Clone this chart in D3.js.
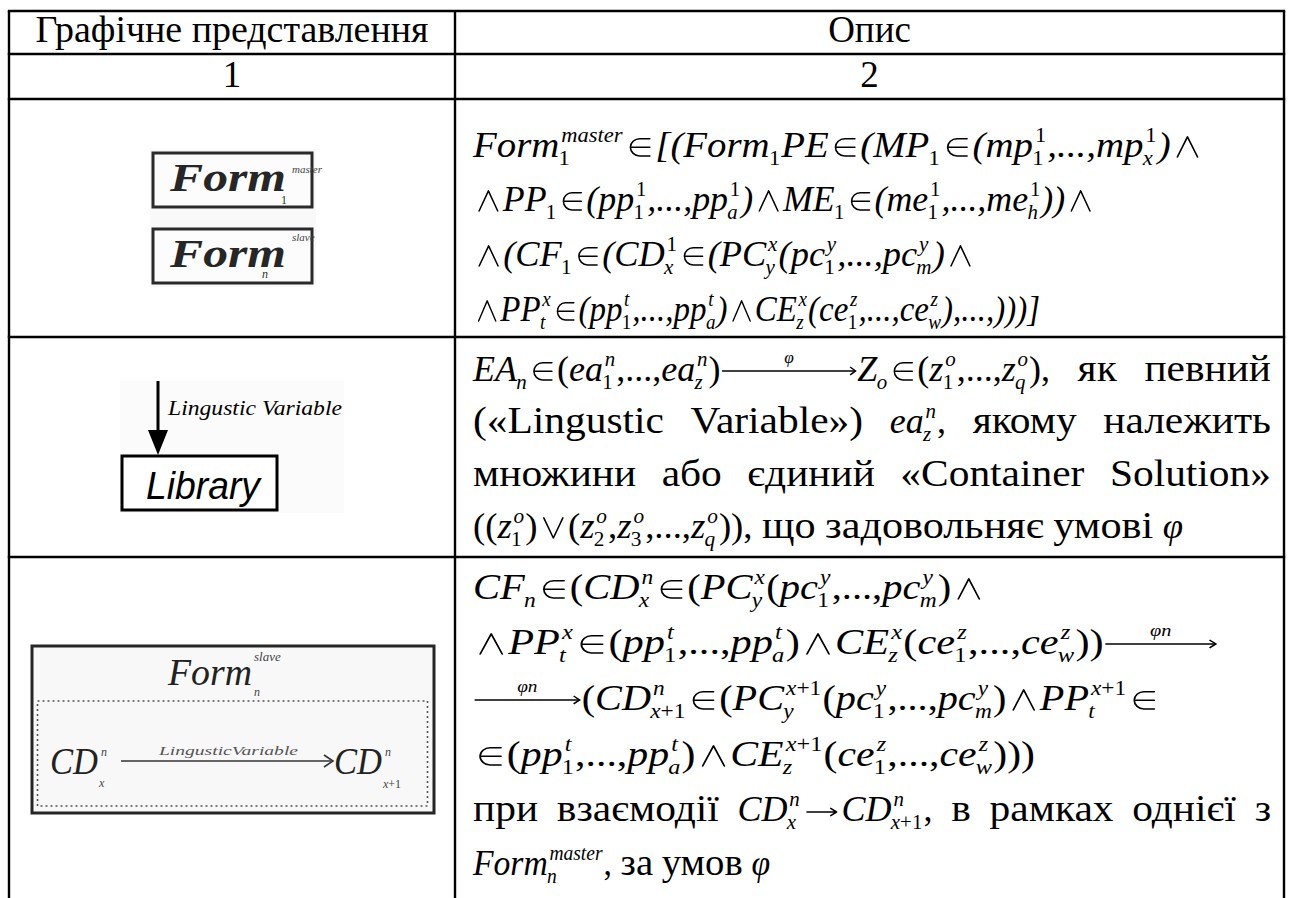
<!DOCTYPE html>
<html><head><meta charset="utf-8">
<script src="https://cdn.jsdelivr.net/npm/d3@7"></script>
<style>
html,body{margin:0;padding:0;background:#fff;}
svg{display:block;}
</style></head>
<body>
<svg id="chart" width="1292" height="898"></svg>
<script>
// ---------------- DATA (content of the table) ----------------
const headers = ["Графічне представлення", "Опис"];
const columnNumbers = ["1", "2"];
// "$" = formula word (mini markup: X_{sub}^{sup}, \arrow{label|length}); others = plain text words
const row1Formulas = [
  ["$Form_{1}^{master}∈[(Form_{1}PE∈(MP_{1}∈(mp_{1}^{1},...,mp_{x}^{1})∧"],
  ["$∧PP_{1}∈(pp_{1}^{1},...,pp_{a}^{1})∧ME_{1}∈(me_{1}^{1},...,me_{h}^{1}))∧"],
  ["$∧(CF_{1}∈(CD_{x}^{1}∈(PC_{y}^{x}(pc_{1}^{y},...,pc_{m}^{y})∧"],
  ["$∧PP_{t}^{x}∈(pp_{1}^{t},...,pp_{a}^{t})∧CE_{z}^{x}(ce_{1}^{z},...,ce_{w}^{z}),...,)))]"]
];
const row2Lines = [
  ["$EA_{n}∈(ea_{1}^{n},...,ea_{z}^{n})\\arrow{φ|3.8}Z_{o}∈(z_{1}^{o},...,z_{q}^{o}),", "як", "певний"],
  ["(«Lingustic", "Variable»)", "$ea_{z}^{n},", "якому", "належить"],
  ["множини", "або", "єдиний", "«Container", "Solution»"],
  ["$((z_{1}^{o})∨(z_{2}^{o},z_{3}^{o},...,z_{q}^{o})),", "що", "задовольняє", "умові", "$φ"]
];
const row3Lines = [
  ["$CF_{n}∈(CD_{x}^{n}∈(PC_{y}^{x}(pc_{1}^{y},...,pc_{m}^{y})∧"],
  ["$∧PP_{t}^{x}∈(pp_{1}^{t},...,pp_{a}^{t})∧CE_{z}^{x}(ce_{1}^{z},...,ce_{w}^{z}))\\arrow{φn|2.7}"],
  ["$\\arrow{φn|2.7}(CD_{x+1}^{n}∈(PC_{y}^{x+1}(pc_{1}^{y},...,pc_{m}^{y})∧PP_{t}^{x+1}∈"],
  ["$∈(pp_{1}^{t},...,pp_{a}^{t})∧CE_{z}^{x+1}(ce_{1}^{z},...,ce_{w}^{z})))"],
  ["при", "взаємодії", "$CD_{x}^{n}→CD_{x+1}^{n},", "в", "рамках", "однієї", "з"],
  ["$Form_{n}^{master},", "за", "умов", "$φ"]
];
const figureLabels = { master: "master", slave: "slave", form: "Form", arrowLabel: "Lingustic Variable", library: "Library", cd: "CD", cdArrow: "LingusticVariable" };

// ---------------- LAYOUT ----------------
const W = 1292, H = 898;
const SERIF = "'Liberation Serif','Times New Roman',serif";
const SANS = "'Liberation Sans',Arial,sans-serif";
const colEdges = [9, 455, 1284];
const rowEdges = [11, 54, 99, 337, 557];
const textLeft = 473, textRight = 1271;
const textF = 37, mathF = 36, textStretch = 1.12;

const row1Layout = { baselines: [157, 211, 266, 321], right: [1203, 1095, 975, 1040], justify: [false, false, false, false] };
const row2Layout = { baselines: [381, 433, 486, 538], right: [textRight, textRight, textRight, 1183], justify: [true, true, true, false] };
const row3Layout = { baselines: [599, 654, 710, 766, 821, 875], right: [985, 1218, 1160, 1035, textRight, 770], justify: [false, false, false, false, true, false] };

const svg = d3.select("#chart").attr("font-family", SERIF);
svg.append("rect").attr("width", W).attr("height", H).attr("fill", "#fff");

// ---------------- TABLE GRID ----------------
const grid = svg.append("g").attr("stroke", "#000").attr("stroke-width", 2.4);
grid.selectAll("line.h").data(rowEdges).join("line")
  .attr("x1", colEdges[0] - 1.2).attr("x2", colEdges[2] + 1.2)
  .attr("y1", d => d).attr("y2", d => d);
grid.selectAll("line.v").data(colEdges).join("line").attr("class", "v")
  .attr("x1", d => d).attr("x2", d => d)
  .attr("y1", rowEdges[0]).attr("y2", H);

const colCenter = i => (colEdges[i] + colEdges[i + 1]) / 2;
svg.selectAll("text.hdr").data(headers).join("text").attr("class", "hdr")
  .attr("x", (d, i) => colCenter(i)).attr("y", 42).attr("text-anchor", "middle")
  .attr("font-size", textF).text(d => d)
  .each(function (d, i) { if (i === 0) d3.select(this).attr("textLength", 393).attr("lengthAdjust", "spacingAndGlyphs"); });
svg.selectAll("text.num").data(columnNumbers).join("text").attr("class", "num")
  .attr("x", (d, i) => colCenter(i)).attr("y", 87).attr("text-anchor", "middle")
  .attr("font-size", textF).text(d => d);

// ---------------- MINI MATH RENDERER ----------------
const isLetter = c => /[A-Za-zα-ωφ]/.test(c);
function parseMath(s) {
  const atoms = []; let i = 0;
  while (i < s.length) {
    if (s.startsWith("\\arrow{", i)) {
      const j = s.indexOf("}", i); const [lab, len] = s.slice(i + 7, j).split("|");
      atoms.push({ arrow: lab, len: +len }); i = j + 1; continue;
    }
    const c = s[i];
    if (c === "_" || c === "^") {
      let g;
      if (s[i + 1] === "{") { const j = s.indexOf("}", i); g = s.slice(i + 2, j); i = j + 1; }
      else { g = s[i + 1]; i += 2; }
      atoms[atoms.length - 1][c === "_" ? "sub" : "sup"] = g; continue;
    }
    if ("∈∧∨→".includes(c)) { atoms.push({ op: c }); i++; continue; }
    const it = isLetter(c);
    const last = atoms[atoms.length - 1];
    if (last && last.run !== undefined && last.it === it && last.sub === undefined && last.sup === undefined) last.run += c;
    else atoms.push({ run: c, it });
    i++;
  }
  return atoms;
}
function appendMixed(sel, str, allItalic) {
  const chunks = str.match(/([A-Za-zα-ωφ]+|[^A-Za-zα-ωφ]+)/g) || [];
  chunks.forEach(ch => sel.append("tspan").text(ch)
    .attr("font-style", (allItalic || isLetter(ch[0])) ? "italic" : "normal"));
}
// thin operator glyphs drawn as paths; returns advance width
function drawOp(g, op, x, F) {
  const sw = F * 0.042;
  const p = g.append("path").attr("fill", "none").attr("stroke", "#000").attr("stroke-width", sw)
    .attr("stroke-linecap", "round").attr("stroke-linejoin", "round");
  if (op === "∈") {
    const r = F * 0.24, cy = -F * 0.27, x0 = x + F * 0.04, x1 = x0 + F * 0.5;
    p.attr("d", `M${x1},${cy - r} L${x0 + r},${cy - r} A${r},${r} 0 0 0 ${x0 + r},${cy + r} L${x1},${cy + r} M${x0},${cy} L${x1},${cy}`);
    return F * 0.58;
  }
  if (op === "∧" || op === "∨") {
    const w = F * 0.52, h = F * 0.56, x0 = x + F * 0.04;
    p.attr("d", op === "∧" ? `M${x0},0 L${x0 + w / 2},${-h} L${x0 + w},0` : `M${x0},${-h} L${x0 + w / 2},0 L${x0 + w},${-h}`);
    return F * 0.6;
  }
  const y = -F * 0.25, x0 = x + F * 0.04, x1 = x + F * 0.86;
  p.attr("d", `M${x0},${y} L${x1},${y} M${x1 - F * 0.16},${y - F * 0.1} L${x1},${y} L${x1 - F * 0.16},${y + F * 0.1}`);
  return F * 0.9;
}
function renderMath(g, atoms, F, allItalic) {
  let x = 0;
  atoms.forEach(a => {
    if (a.arrow !== undefined) {
      const L = F * a.len, y = -F * 0.28, sw = F * 0.04;
      g.append("line").attr("x1", x + F * 0.04).attr("x2", x + L - F * 0.06).attr("y1", y).attr("y2", y)
        .attr("stroke", "#000").attr("stroke-width", sw);
      g.append("path").attr("d", `M${x + L - F * 0.2},${y - F * 0.11} L${x + L - F * 0.05},${y} L${x + L - F * 0.2},${y + F * 0.11}`)
        .attr("fill", "none").attr("stroke", "#000").attr("stroke-width", sw);
      const t = g.append("text").attr("x", x + L / 2).attr("y", y - F * 0.22).attr("text-anchor", "middle").attr("font-size", F * 0.48);
      appendMixed(t, a.arrow, true);
      x += L; return;
    }
    if (a.op) {
      x += F * 0.13;
      x += drawOp(g, a.op, x, F);
      x += F * 0.1; return;
    }
    const t = g.append("text").attr("x", x).attr("font-size", F)
      .attr("font-style", (allItalic || a.it) ? "italic" : "normal").text(a.run);
    x += t.node().getComputedTextLength();
    if (a.sub !== undefined || a.sup !== undefined) {
      let w = 0; const s = F * 0.58;
      if (a.sup !== undefined) {
        const ts = g.append("text").attr("x", x + F * 0.05).attr("y", -F * 0.42).attr("font-size", s);
        appendMixed(ts, a.sup, false);
        w = Math.max(w, ts.node().getComputedTextLength() + F * 0.05);
      }
      if (a.sub !== undefined) {
        const ts = g.append("text").attr("x", x - F * 0.02).attr("y", F * 0.22).attr("font-size", s);
        appendMixed(ts, a.sub, false);
        w = Math.max(w, ts.node().getComputedTextLength() - F * 0.02);
      }
      x += w + F * 0.03;
    }
  });
  return x;
}
function renderLine(words, baseline, right, justify, allItalic) {
  const g = svg.append("g");
  const items = words.map(w => {
    const wg = g.append("g");
    let width;
    if (w.startsWith("$")) { width = renderMath(wg, parseMath(w.slice(1)), mathF, allItalic); wg.datum(1); }
    else {
      const t = wg.append("text").attr("font-size", textF).attr("transform", `scale(${textStretch},1)`).text(w);
      width = t.node().getComputedTextLength() * textStretch;
    }
    return { wg, width };
  });
  const sum = d3.sum(items, d => d.width);
  const target = right - textLeft;
  let gap = textF * 0.25, sx = 1;
  if (justify && items.length > 1) gap = (target - sum) / (items.length - 1);
  else sx = target / (sum + gap * (items.length - 1));
  let xx = 0;
  items.forEach(it => { it.wg.attr("transform", `translate(${xx},0)`); xx += it.width + gap; });
  g.attr("transform", `translate(${textLeft},${baseline}) scale(${sx},1)`);
}
row1Formulas.forEach((l, i) => renderLine(l, row1Layout.baselines[i], row1Layout.right[i], row1Layout.justify[i], true));
row2Lines.forEach((l, i) => renderLine(l, row2Layout.baselines[i], row2Layout.right[i], row2Layout.justify[i], false));
row3Lines.forEach((l, i) => renderLine(l, row3Layout.baselines[i], row3Layout.right[i], row3Layout.justify[i], false));

// ---------------- LEFT COLUMN FIGURES ----------------
function fitText(sel, w) { sel.attr("textLength", w).attr("lengthAdjust", "spacingAndGlyphs"); }

// Row 1: two form boxes
const fig1 = svg.append("g");
fig1.append("rect").attr("x", 150).attr("y", 149).attr("width", 166).attr("height", 138).attr("fill", "#f9f9f9");
[{ y: 152, sup: figureLabels.master, sub: "1", supY: 173, subX: 281, subY: 204 },
 { y: 228, sup: figureLabels.slave, sub: "n", supY: 241, subX: 262, subY: 278 }].forEach(b => {
  fig1.append("rect").attr("x", 153).attr("y", b.y + 1).attr("width", 159).attr("height", 54)
    .attr("fill", "#fcfcfc").attr("stroke", "#2a2a2a").attr("stroke-width", 3);
  const t = fig1.append("text").attr("x", 170).attr("y", b.y + 39).attr("font-size", 40)
    .attr("font-style", "italic").attr("font-weight", "bold").attr("fill", "#262626").text(figureLabels.form);
  fitText(t, 116);
  fig1.append("text").attr("x", 292).attr("y", b.supY).attr("font-size", 11).attr("font-style", "italic")
    .attr("fill", "#444").text(b.sup);
  fig1.append("text").attr("x", b.subX).attr("y", b.subY).attr("font-size", 12).attr("font-style", b.sub === "1" ? "normal" : "italic")
    .attr("fill", "#333").text(b.sub);
});

// Row 2: arrow + Library box
const fig2 = svg.append("g");
fig2.append("rect").attr("x", 120).attr("y", 380).attr("width", 224).attr("height", 133).attr("fill", "#fbfbfb");
fig2.append("line").attr("x1", 158).attr("x2", 158).attr("y1", 381).attr("y2", 432).attr("stroke", "#000").attr("stroke-width", 3);
fig2.append("path").attr("d", "M148,430 L168,430 L158,455 Z").attr("fill", "#000");
const lv = fig2.append("text").attr("x", 168).attr("y", 415).attr("font-size", 22).attr("font-style", "italic").text(figureLabels.arrowLabel);
fitText(lv, 174);
fig2.append("rect").attr("x", 122).attr("y", 456).attr("width", 155).attr("height", 54)
  .attr("fill", "#fff").attr("stroke", "#000").attr("stroke-width", 3);
const lib = fig2.append("text").attr("x", 146).attr("y", 499).attr("font-size", 38).attr("font-style", "italic")
  .attr("font-family", SANS).text(figureLabels.library);
fitText(lib, 114);

// Row 3: form with CD transition
const fig3 = svg.append("g");
fig3.append("rect").attr("x", 32).attr("y", 646).attr("width", 402).attr("height", 167)
  .attr("fill", "#f8f8f8").attr("stroke", "#262626").attr("stroke-width", 3);
fig3.append("rect").attr("x", 37.5).attr("y", 701).attr("width", 390).attr("height", 105)
  .attr("fill", "none").attr("stroke", "#555").attr("stroke-width", 1.6).attr("stroke-dasharray", "2,3");
const f3 = fig3.append("text").attr("x", 168).attr("y", 685).attr("font-size", 37).attr("font-style", "italic").attr("fill", "#222").text(figureLabels.form);
fitText(f3, 84);
fig3.append("text").attr("x", 254).attr("y", 661).attr("font-size", 13).attr("font-style", "italic").attr("fill", "#444").text(figureLabels.slave);
fig3.append("text").attr("x", 254).attr("y", 696).attr("font-size", 12).attr("font-style", "italic").attr("fill", "#444").text("n");
const cd1 = fig3.append("text").attr("x", 50).attr("y", 774).attr("font-size", 37).attr("font-style", "italic").attr("fill", "#222").text(figureLabels.cd);
fitText(cd1, 48);
fig3.append("text").attr("x", 101).attr("y", 756).attr("font-size", 12).attr("font-style", "italic").attr("fill", "#444").text("n");
fig3.append("text").attr("x", 99).attr("y", 787).attr("font-size", 12).attr("font-style", "italic").attr("fill", "#444").text("x");
fig3.append("line").attr("x1", 121).attr("x2", 331).attr("y1", 761).attr("y2", 761).attr("stroke", "#333").attr("stroke-width", 1.6);
fig3.append("path").attr("d", "M324,755 L333,761 L324,767").attr("fill", "none").attr("stroke", "#333").attr("stroke-width", 1.6);
const cdl = fig3.append("text").attr("x", 159).attr("y", 755).attr("font-size", 13).attr("font-style", "italic").attr("fill", "#555").text(figureLabels.cdArrow);
fitText(cdl, 139);
const cd2 = fig3.append("text").attr("x", 334).attr("y", 774).attr("font-size", 37).attr("font-style", "italic").attr("fill", "#222").text(figureLabels.cd);
fitText(cd2, 48);
fig3.append("text").attr("x", 385).attr("y", 756).attr("font-size", 12).attr("font-style", "italic").attr("fill", "#444").text("n");
const xp = fig3.append("text").attr("x", 383).attr("y", 788).attr("font-size", 12).attr("fill", "#444");
xp.append("tspan").attr("font-style", "italic").text("x");
xp.append("tspan").text("+1");
</script>
</body></html>
